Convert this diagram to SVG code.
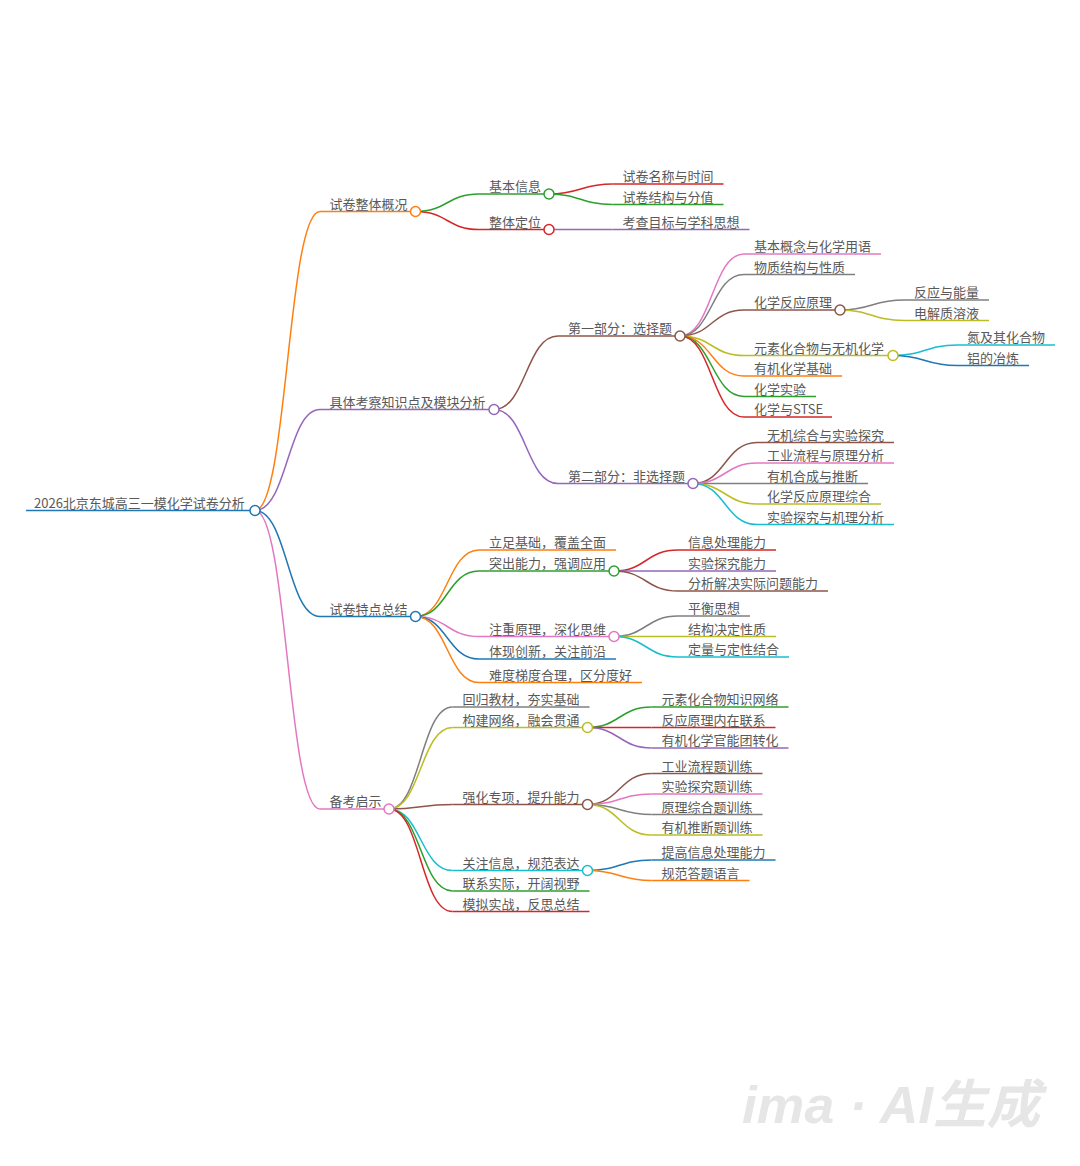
<svg xmlns="http://www.w3.org/2000/svg" width="1080" height="1166" viewBox="0 0 1080 1166">
<style>
.l{fill:none;stroke-width:1.5}
circle{fill:#fff;stroke-width:1.5}
text{font-family:"Noto Sans CJK SC","Noto Sans",sans-serif;font-size:13px;fill:#595959}
.bl{stroke:#1f77b4}.or{stroke:#ff7f0e}.gr{stroke:#2ca02c}.rd{stroke:#d62728}.pu{stroke:#9467bd}
.br{stroke:#8c564b}.pk{stroke:#e377c2}.gy{stroke:#7f7f7f}.ol{stroke:#bcbd22}.cy{stroke:#17becf}
.wm{font-family:"Liberation Sans","Noto Sans CJK SC",sans-serif;font-size:52px;font-style:italic;font-weight:bold;fill:#e6e6e6}
</style>
<rect width="1080" height="1166" fill="#fff"/>
<g id="connectors">
<path class="l or" d="M255 510.5C287.5 510.5 287.5 211.5 320 211.5"/>
<path class="l pu" d="M255 510.5C287.5 510.5 287.5 409.5 320 409.5"/>
<path class="l bl" d="M255 510.5C287.5 510.5 287.5 616.5 320 616.5"/>
<path class="l pk" d="M255 510.5C287.5 510.5 287.5 809 320 809"/>
<path class="l gr" d="M415.5 211.5C447.25 211.5 447.25 194 479 194"/>
<path class="l rd" d="M415.5 211.5C447.25 211.5 447.25 229.5 479 229.5"/>
<path class="l rd" d="M549 194C580.75 194 580.75 184 612.5 184"/>
<path class="l gr" d="M549 194C580.75 194 580.75 204.5 612.5 204.5"/>
<path class="l pu" d="M549 229.5H612.5"/>
<path class="l br" d="M494 409.5C526 409.5 526 336 558 336"/>
<path class="l pu" d="M494 409.5C526 409.5 526 483.5 558 483.5"/>
<path class="l pk" d="M680 336C712 336 712 254 744 254"/>
<path class="l gy" d="M680 336C712 336 712 274.5 744 274.5"/>
<path class="l br" d="M680 336C712 336 712 310 744 310"/>
<path class="l ol" d="M680 336C712 336 712 355.5 744 355.5"/>
<path class="l or" d="M680 336C712 336 712 376 744 376"/>
<path class="l gr" d="M680 336C712 336 712 396.5 744 396.5"/>
<path class="l rd" d="M680 336C712 336 712 417 744 417"/>
<path class="l gy" d="M840 310C872 310 872 300 904 300"/>
<path class="l ol" d="M840 310C872 310 872 320.5 904 320.5"/>
<path class="l cy" d="M893 355.5C925 355.5 925 345 957 345"/>
<path class="l bl" d="M893 355.5C925 355.5 925 365.5 957 365.5"/>
<path class="l br" d="M693 483.5C725 483.5 725 442.5 757 442.5"/>
<path class="l pk" d="M693 483.5C725 483.5 725 463 757 463"/>
<path class="l gy" d="M693 483.5H757"/>
<path class="l ol" d="M693 483.5C725 483.5 725 504 757 504"/>
<path class="l cy" d="M693 483.5C725 483.5 725 524.5 757 524.5"/>
<path class="l or" d="M415.5 616.5C447.25 616.5 447.25 550 479 550"/>
<path class="l gr" d="M415.5 616.5C447.25 616.5 447.25 571 479 571"/>
<path class="l pk" d="M415.5 616.5C447.25 616.5 447.25 636.5 479 636.5"/>
<path class="l bl" d="M415.5 616.5C447.25 616.5 447.25 659 479 659"/>
<path class="l or" d="M415.5 616.5C447.25 616.5 447.25 682.5 479 682.5"/>
<path class="l rd" d="M614 571C646 571 646 550 678 550"/>
<path class="l pu" d="M614 571H678"/>
<path class="l br" d="M614 571C646 571 646 591 678 591"/>
<path class="l gy" d="M614 636.5C646 636.5 646 616 678 616"/>
<path class="l ol" d="M614 636.5H678"/>
<path class="l cy" d="M614 636.5C646 636.5 646 657 678 657"/>
<path class="l gy" d="M389 809C420.75 809 420.75 707 452.5 707"/>
<path class="l ol" d="M389 809C420.75 809 420.75 727.5 452.5 727.5"/>
<path class="l br" d="M389 809C420.75 809 420.75 804.5 452.5 804.5"/>
<path class="l cy" d="M389 809C420.75 809 420.75 870.5 452.5 870.5"/>
<path class="l gr" d="M389 809C420.75 809 420.75 891 452.5 891"/>
<path class="l rd" d="M389 809C420.75 809 420.75 911.5 452.5 911.5"/>
<path class="l gr" d="M587.5 727.5C619.5 727.5 619.5 707 651.5 707"/>
<path class="l rd" d="M587.5 727.5H651.5"/>
<path class="l pu" d="M587.5 727.5C619.5 727.5 619.5 748 651.5 748"/>
<path class="l br" d="M587.5 804.5C619.5 804.5 619.5 773.5 651.5 773.5"/>
<path class="l pk" d="M587.5 804.5C619.5 804.5 619.5 794 651.5 794"/>
<path class="l gy" d="M587.5 804.5C619.5 804.5 619.5 814.5 651.5 814.5"/>
<path class="l ol" d="M587.5 804.5C619.5 804.5 619.5 835 651.5 835"/>
<path class="l bl" d="M587.5 870.5C619.5 870.5 619.5 860 651.5 860"/>
<path class="l or" d="M587.5 870.5C619.5 870.5 619.5 880.5 651.5 880.5"/>
</g>
<g id="root"><path class="l bl" stroke-width="2" d="M26 510.5H255"/><circle class="bl" cx="255" cy="510.5" r="5"/><text x="34" y="507.5">2026北京东城高三一模化学试卷分析</text></g>
<g id="n1"><path class="l or" d="M320 211.5H415.5"/><circle class="or" cx="415.5" cy="211.5" r="5"/><text x="329.5" y="208.5">试卷整体概况</text></g>
<g id="n1-1"><path class="l gr" d="M479 194H549"/><circle class="gr" cx="549" cy="194" r="5"/><text x="489" y="191">基本信息</text></g>
<g id="n1-1-1"><path class="l rd" d="M612.5 184H723.5"/><text x="622.5" y="181">试卷名称与时间</text></g>
<g id="n1-1-2"><path class="l gr" d="M612.5 204.5H723.5"/><text x="622.5" y="201.5">试卷结构与分值</text></g>
<g id="n1-2"><path class="l rd" d="M479 229.5H549"/><circle class="rd" cx="549" cy="229.5" r="5"/><text x="489" y="226.5">整体定位</text></g>
<g id="n1-2-1"><path class="l pu" d="M612.5 229.5H749.5"/><text x="622.5" y="226.5">考查目标与学科思想</text></g>
<g id="n2"><path class="l pu" d="M320 409.5H494"/><circle class="pu" cx="494" cy="409.5" r="5"/><text x="329.5" y="406.5">具体考察知识点及模块分析</text></g>
<g id="n2-1"><path class="l br" d="M558 336H680"/><circle class="br" cx="680" cy="336" r="5"/><text x="568" y="333">第一部分：选择题</text></g>
<g id="n2-1-1"><path class="l pk" d="M744 254H881"/><text x="754" y="251">基本概念与化学用语</text></g>
<g id="n2-1-2"><path class="l gy" d="M744 274.5H855"/><text x="754" y="271.5">物质结构与性质</text></g>
<g id="n2-1-3"><path class="l br" d="M744 310H840"/><circle class="br" cx="840" cy="310" r="5"/><text x="754" y="307">化学反应原理</text></g>
<g id="n2-1-3-1"><path class="l gy" d="M904 300H989"/><text x="914" y="297">反应与能量</text></g>
<g id="n2-1-3-2"><path class="l ol" d="M904 320.5H989"/><text x="914" y="317.5">电解质溶液</text></g>
<g id="n2-1-4"><path class="l ol" d="M744 355.5H893"/><circle class="ol" cx="893" cy="355.5" r="5"/><text x="754" y="352.5">元素化合物与无机化学</text></g>
<g id="n2-1-4-1"><path class="l cy" d="M957 345H1055"/><text x="967" y="342">氮及其化合物</text></g>
<g id="n2-1-4-2"><path class="l bl" d="M957 365.5H1029"/><text x="967" y="362.5">铝的冶炼</text></g>
<g id="n2-1-5"><path class="l or" d="M744 376H842"/><text x="754" y="373">有机化学基础</text></g>
<g id="n2-1-6"><path class="l gr" d="M744 396.5H816"/><text x="754" y="393.5">化学实验</text></g>
<g id="n2-1-7"><path class="l rd" d="M744 417H832"/><text x="754" y="414">化学与STSE</text></g>
<g id="n2-2"><path class="l pu" d="M558 483.5H693"/><circle class="pu" cx="693" cy="483.5" r="5"/><text x="568" y="480.5">第二部分：非选择题</text></g>
<g id="n2-2-1"><path class="l br" d="M757 442.5H894"/><text x="767" y="439.5">无机综合与实验探究</text></g>
<g id="n2-2-2"><path class="l pk" d="M757 463H894"/><text x="767" y="460">工业流程与原理分析</text></g>
<g id="n2-2-3"><path class="l gy" d="M757 483.5H868"/><text x="767" y="480.5">有机合成与推断</text></g>
<g id="n2-2-4"><path class="l ol" d="M757 504H881"/><text x="767" y="501">化学反应原理综合</text></g>
<g id="n2-2-5"><path class="l cy" d="M757 524.5H894"/><text x="767" y="521.5">实验探究与机理分析</text></g>
<g id="n3"><path class="l bl" d="M320 616.5H415.5"/><circle class="bl" cx="415.5" cy="616.5" r="5"/><text x="329.5" y="613.5">试卷特点总结</text></g>
<g id="n3-1"><path class="l or" d="M479 550H616"/><text x="489" y="547">立足基础，覆盖全面</text></g>
<g id="n3-2"><path class="l gr" d="M479 571H614"/><circle class="gr" cx="614" cy="571" r="5"/><text x="489" y="568">突出能力，强调应用</text></g>
<g id="n3-2-1"><path class="l rd" d="M678 550H776"/><text x="688" y="547">信息处理能力</text></g>
<g id="n3-2-2"><path class="l pu" d="M678 571H776"/><text x="688" y="568">实验探究能力</text></g>
<g id="n3-2-3"><path class="l br" d="M678 591H828"/><text x="688" y="588">分析解决实际问题能力</text></g>
<g id="n3-3"><path class="l pk" d="M479 636.5H614"/><circle class="pk" cx="614" cy="636.5" r="5"/><text x="489" y="633.5">注重原理，深化思维</text></g>
<g id="n3-3-1"><path class="l gy" d="M678 616H750"/><text x="688" y="613">平衡思想</text></g>
<g id="n3-3-2"><path class="l ol" d="M678 636.5H776"/><text x="688" y="633.5">结构决定性质</text></g>
<g id="n3-3-3"><path class="l cy" d="M678 657H789"/><text x="688" y="654">定量与定性结合</text></g>
<g id="n3-4"><path class="l bl" d="M479 659H616"/><text x="489" y="656">体现创新，关注前沿</text></g>
<g id="n3-5"><path class="l or" d="M479 682.5H642"/><text x="489" y="679.5">难度梯度合理，区分度好</text></g>
<g id="n4"><path class="l pk" d="M320 809H389"/><circle class="pk" cx="389" cy="809" r="5"/><text x="329.5" y="806">备考启示</text></g>
<g id="n4-1"><path class="l gy" d="M452.5 707H589.5"/><text x="462.5" y="704">回归教材，夯实基础</text></g>
<g id="n4-2"><path class="l ol" d="M452.5 727.5H587.5"/><circle class="ol" cx="587.5" cy="727.5" r="5"/><text x="462.5" y="724.5">构建网络，融会贯通</text></g>
<g id="n4-2-1"><path class="l gr" d="M651.5 707H788.5"/><text x="661.5" y="704">元素化合物知识网络</text></g>
<g id="n4-2-2"><path class="l rd" d="M651.5 727.5H775.5"/><text x="661.5" y="724.5">反应原理内在联系</text></g>
<g id="n4-2-3"><path class="l pu" d="M651.5 748H788.5"/><text x="661.5" y="745">有机化学官能团转化</text></g>
<g id="n4-3"><path class="l br" d="M452.5 804.5H587.5"/><circle class="br" cx="587.5" cy="804.5" r="5"/><text x="462.5" y="801.5">强化专项，提升能力</text></g>
<g id="n4-3-1"><path class="l br" d="M651.5 773.5H762.5"/><text x="661.5" y="770.5">工业流程题训练</text></g>
<g id="n4-3-2"><path class="l pk" d="M651.5 794H762.5"/><text x="661.5" y="791">实验探究题训练</text></g>
<g id="n4-3-3"><path class="l gy" d="M651.5 814.5H762.5"/><text x="661.5" y="811.5">原理综合题训练</text></g>
<g id="n4-3-4"><path class="l ol" d="M651.5 835H762.5"/><text x="661.5" y="832">有机推断题训练</text></g>
<g id="n4-4"><path class="l cy" d="M452.5 870.5H587.5"/><circle class="cy" cx="587.5" cy="870.5" r="5"/><text x="462.5" y="867.5">关注信息，规范表达</text></g>
<g id="n4-4-1"><path class="l bl" d="M651.5 860H775.5"/><text x="661.5" y="857">提高信息处理能力</text></g>
<g id="n4-4-2"><path class="l or" d="M651.5 880.5H749.5"/><text x="661.5" y="877.5">规范答题语言</text></g>
<g id="n4-5"><path class="l gr" d="M452.5 891H589.5"/><text x="462.5" y="888">联系实际，开阔视野</text></g>
<g id="n4-6"><path class="l rd" d="M452.5 911.5H589.5"/><text x="462.5" y="908.5">模拟实战，反思总结</text></g>
<text class="wm" x="742" y="1123" textLength="298" lengthAdjust="spacingAndGlyphs">ima · AI生成</text>
</svg>
